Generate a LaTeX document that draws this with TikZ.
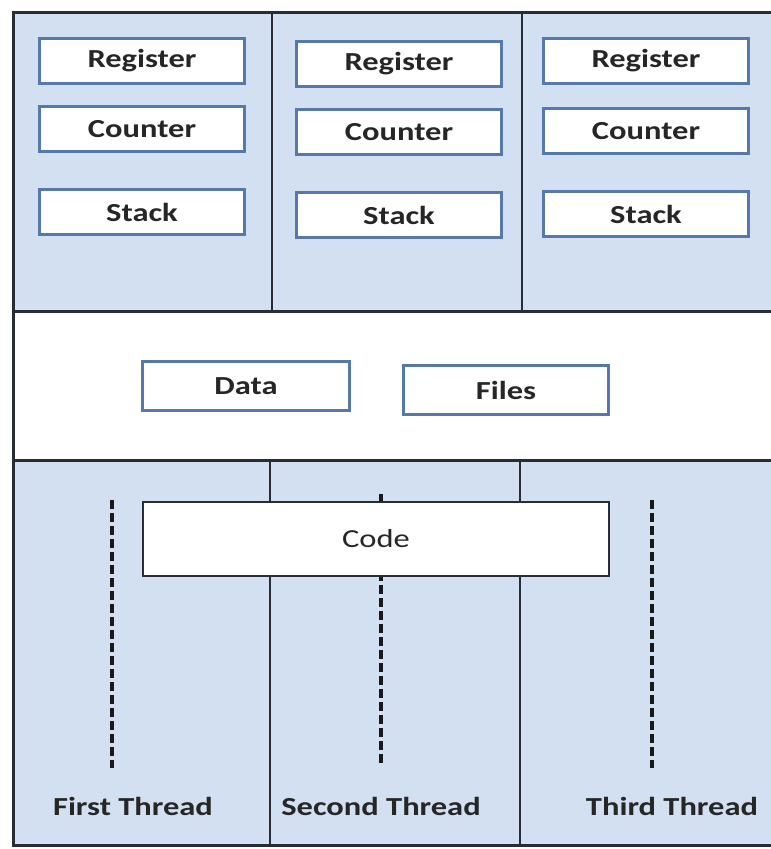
\documentclass[tikz,border=0pt]{standalone}
\usepackage{fontspec}
\setmainfont{Carlito}[FakeStretch=1.25]
\definecolor{paneblue}{RGB}{211,224,241}
\definecolor{boxedge}{RGB}{84,121,170}
\definecolor{frameline}{RGB}{40,44,52}
\begin{document}
\begin{tikzpicture}[x=1pt, y=-1pt,
	part/.style={draw=boxedge, fill=white, line width=2.5pt, minimum width=205pt, minimum height=45pt, font=\fontsize{26}{30}\selectfont\bfseries, text=black!85, inner sep=0pt},
	lbl/.style={font=\fontsize{26}{30}\selectfont\bfseries, text=black!85, inner sep=0pt},
	sep/.style={draw=frameline, line width=3pt},
	thread/.style={draw=black!90, line width=4pt, dash pattern=on 9pt off 4pt}]
	\useasboundingbox (0,0) rectangle (771,849);
	% panes
	\fill[paneblue] (13,12) rectangle (771,311);
	\fill[white] (13,311) rectangle (771,460);
	\fill[paneblue] (13,460) rectangle (771,845);
	\draw[sep] (771,12) -- (13,12) -- (13,845) -- (771,845);
	\draw[sep] (13,311) -- (771,311);
	\draw[sep] (13,460) -- (771,460);
	\draw[sep, line width=2pt] (272,12) -- (272,311);
	\draw[sep, line width=2pt] (522,12) -- (522,311);
	\draw[sep, line width=2pt] (270,460) -- (270,845);
	\draw[sep, line width=2pt] (520,460) -- (520,845);

	% per thread boxes
	\node[part](regA) at (142,61){Register};
	\node[part](cntA) at (142,129){Counter};
	\node[part](stkA) at (142,212){Stack};
	\node[part](regB) at (399,64){Register};
	\node[part](cntB) at (399,132){Counter};
	\node[part](stkB) at (399,215){Stack};
	\node[part](regC) at (646,61){Register};
	\node[part](cntC) at (646,131){Counter};
	\node[part](stkC) at (646,214){Stack};

	% shared
	\node[part, minimum width=207pt, minimum height=49pt](data) at (246,386){Data};
	\node[part, minimum width=205pt, minimum height=49pt](files) at (506,390){Files};

	% threads
	\coordinate (topA) at (112,500);
	\coordinate (botA) at (112,768);
	\coordinate (topB) at (381,494);
	\coordinate (botB) at (381,765);
	\coordinate (topC) at (652,500);
	\coordinate (botC) at (652,768);
	\draw[thread] (topA) -- (botA);
	\draw[thread] (topB) -- (botB);
	\draw[thread] (topC) -- (botC);

	\node[part, draw=frameline, line width=2pt, minimum width=466pt, minimum height=74pt](code) at (376,539){\mdseries Code};

	\node[lbl](firstT) at (133,806){First Thread};
	\node[lbl](secondT) at (381,806){Second Thread};
	\node[lbl](thirdT) at (672,806){Third Thread};
\end{tikzpicture}
\end{document}
